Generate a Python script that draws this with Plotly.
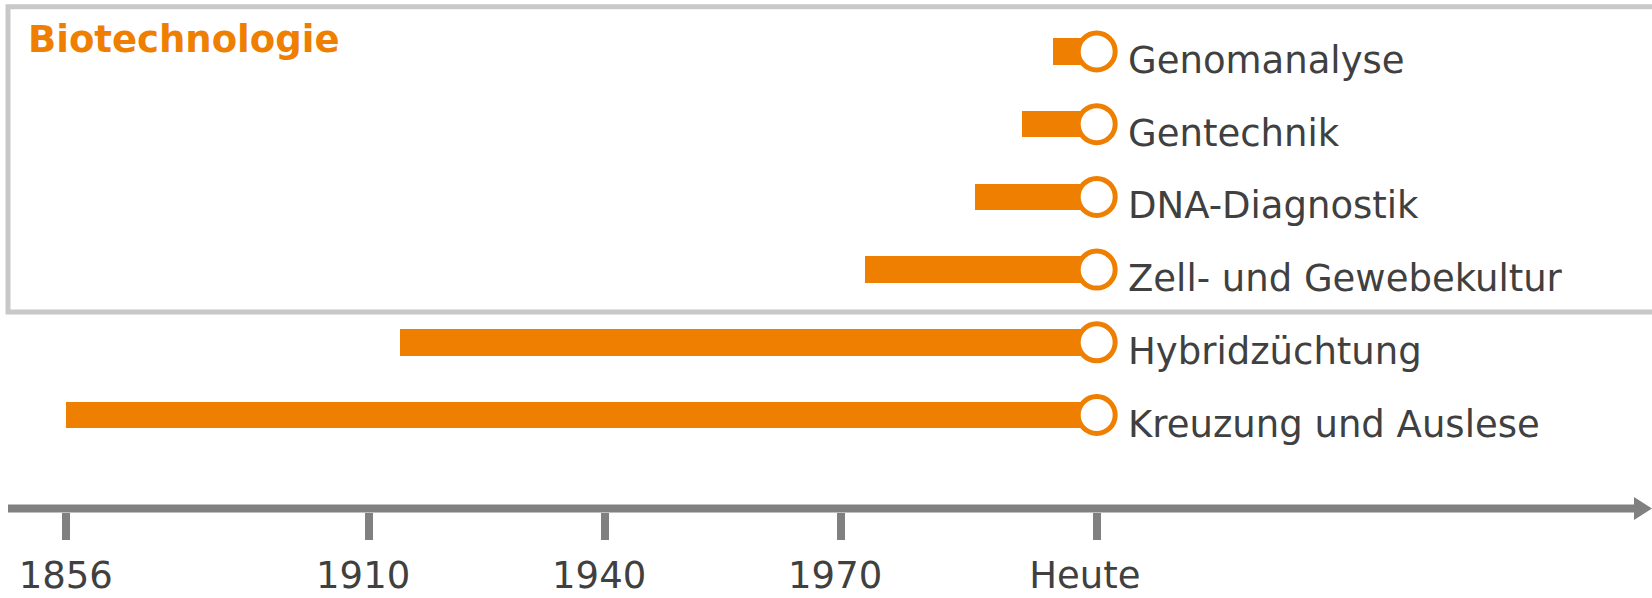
import numpy as np
import plotly.graph_objects as go

# ---- data ----
categories = ["Kreuzung und Auslese", "Hybridzüchtung", "Zell- und Gewebekultur",
              "DNA-Diagnostik", "Gentechnik", "Genomanalyse"]
start_years = [1856, 1914, 1973, 1987, 1993, 1997]
heute_year = 2002.5
tick_years = [1856, 1910, 1940, 1970, heute_year]
tick_labels = ["1856", "1910", "1940", "1970", "Heute"]
title_text = "Biotechnologie"

# ---- style ----
ORANGE = "#EE7F00"
GRAY = "#808080"
BOX = "#C8C8C8"
TEXT = "#404040"
FONT = "DejaVu Sans"
W, H = 1652, 598
NBSP = "\u00a0"
label_pad = [0, 1, 1, 1, 2]  # trailing hard spaces nudge labels left as in the original

# timeline scale: segment before 1910 is drawn compressed
SCALE_YEARS = [1856, 1910, 2100]
SCALE_POS = [1871.45, 1910, 2100]


def pos(y):
    return np.interp(y, SCALE_YEARS, SCALE_POS)


rows = list(range(len(categories)))
x0 = pos(np.array(start_years, dtype=float))
x1 = pos(heute_year)

fig = go.Figure()
fig.add_trace(go.Bar(
    y=rows, base=x0, x=x1 - x0, orientation="h", width=0.365,
    marker=dict(color=ORANGE, line=dict(width=0)), hoverinfo="skip",
    showlegend=False,
))
fig.add_trace(go.Scatter(
    y=rows, x=[x1] * len(rows), mode="markers",
    marker=dict(symbol="circle", size=37, color="white",
                line=dict(color=ORANGE, width=5)),
    hoverinfo="skip", showlegend=False, cliponaxis=False,
))

for r, name in zip(rows, categories):
    fig.add_annotation(x=x1, y=r, text=name, showarrow=False, xanchor="left",
                       yanchor="middle", xshift=29, yshift=-9,
                       font=dict(family=FONT, size=37, color=TEXT))

fig.add_annotation(xref="paper", yref="paper", x=26 / W, y=1 - 40 / H,
                   text="<b>%s</b>" % title_text, showarrow=False,
                   xanchor="left", yanchor="middle",
                   font=dict(family=FONT, size=37, color=ORANGE))

# box around the biotechnology group
fig.add_shape(type="rect", xref="paper", yref="paper",
              x0=8 / W, x1=1.02, y0=1 - 312 / H, y1=1 - 6.7 / H,
              line=dict(color=BOX, width=5), layer="below")

# timeline arrow
ay = 1 - 508.5 / H
fig.add_shape(type="line", xref="paper", yref="paper",
              x0=8 / W, x1=1636 / W, y0=ay, y1=ay,
              line=dict(color=GRAY, width=8))
fig.add_shape(type="path", xref="paper", yref="paper",
              path="M %f %f L %f %f L %f %f Z" % (1634 / W, 1 - 497 / H, 1.0, ay,
                                                1634 / W, 1 - 520 / H),
              fillcolor=GRAY, line=dict(width=0))

fig.update_layout(
    width=W, height=H, margin=dict(l=0, r=0, t=0, b=0, autoexpand=False),
    paper_bgcolor="white", plot_bgcolor="white",
    bargap=0,
    xaxis=dict(range=[1863.09, 2073.09], showgrid=False, zeroline=False,
               showline=False, anchor="free", position=1 - 512 / H,
               automargin=False,
               tickmode="array", tickvals=list(pos(np.array(tick_years))),
               ticktext=[t + NBSP * p for t, p in zip(tick_labels, label_pad)],
               ticks="outside", ticklen=27,
               tickwidth=8, tickcolor=GRAY, ticklabelstandoff=4,
               tickfont=dict(family=FONT, size=37, color=TEXT)),
    yaxis=dict(range=[-2.517, 5.708], visible=False, domain=[0, 1],
               automargin=False),
)

fig.write_html("out.html", config={"displayModeBar": False},
               post_script="document.body.style.margin='0px';"
                           "document.body.style.overflow='hidden';")
